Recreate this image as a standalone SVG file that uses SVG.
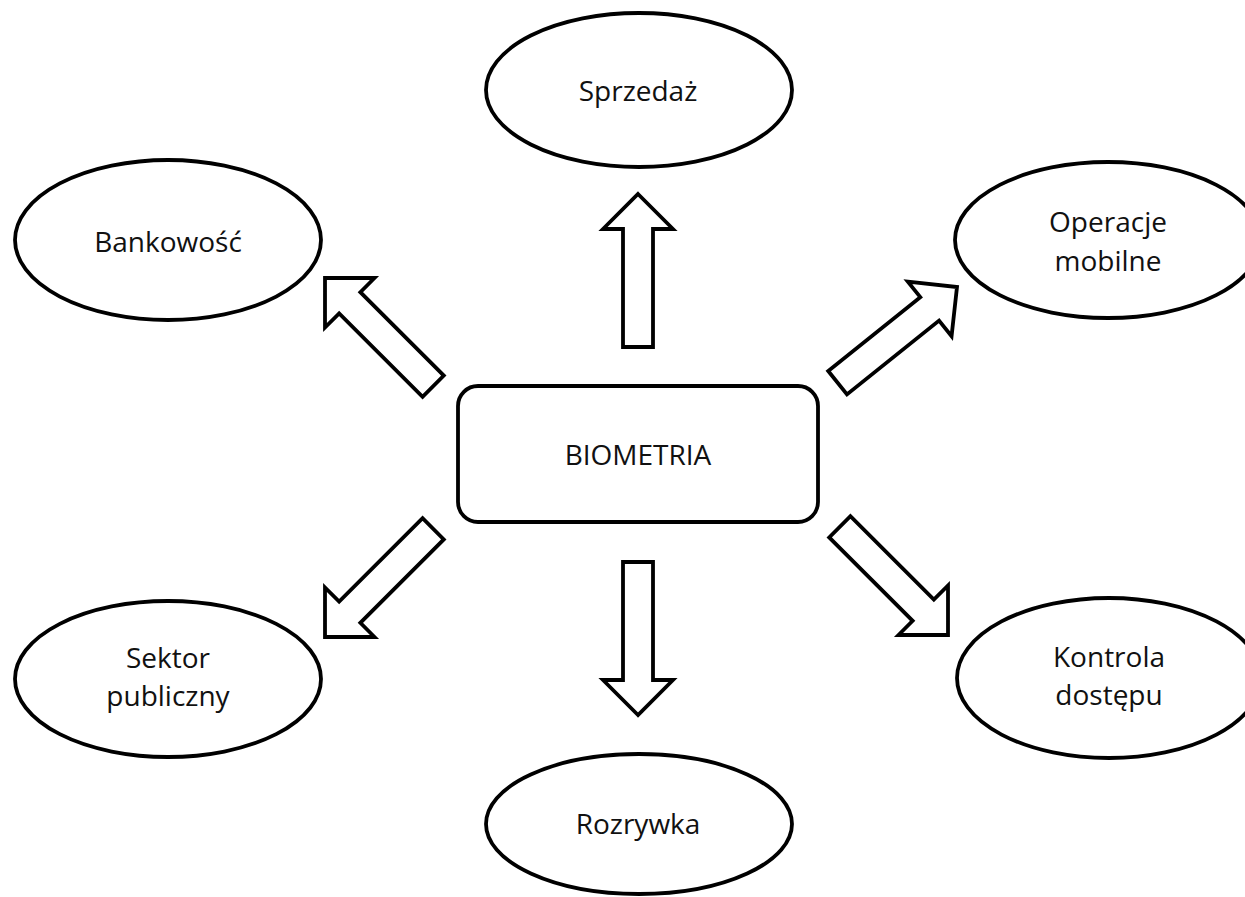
<svg xmlns="http://www.w3.org/2000/svg" width="1245" height="897" viewBox="0 0 1245 897">
  <style>
    .node { fill: #ffffff; stroke: #000000; stroke-width: 3.8; }
    .arrow { fill: #ffffff; stroke: #000000; stroke-width: 3.8; stroke-linejoin: miter; }
    .label { font-family: "Open Sans", "Liberation Sans", sans-serif; font-size: 28px; fill: #111111; text-anchor: middle; }
  </style>
  <defs>
    <path id="blockArrow" d="M0,0 L35,35 L15,35 L15,153 L-15,153 L-15,35 L-35,35 Z"/>
  </defs>
  <rect width="1245" height="897" fill="#ffffff"/>

  <g id="connectors">
    <use href="#blockArrow" class="arrow" transform="translate(638,194)"/>
    <use href="#blockArrow" class="arrow" transform="translate(638,715) rotate(180)"/>
    <use href="#blockArrow" class="arrow" transform="translate(325,278) rotate(-45)"/>
    <use href="#blockArrow" class="arrow" transform="translate(957,287) rotate(51.3)"/>
    <use href="#blockArrow" class="arrow" transform="translate(325,637) rotate(-135)"/>
    <use href="#blockArrow" class="arrow" transform="translate(948,635) rotate(135)"/>
  </g>

  <g id="biometria">
    <rect class="node" x="458" y="386" width="360" height="136" rx="20" ry="20"/>
    <text class="label" x="638" y="465">BIOMETRIA</text>
  </g>

  <g id="sprzedaz">
    <ellipse class="node" cx="639" cy="90" rx="153" ry="77"/>
    <text class="label" x="638" y="101">Sprzedaż</text>
  </g>

  <g id="bankowosc">
    <ellipse class="node" cx="168" cy="240" rx="153" ry="80"/>
    <text class="label" x="168" y="252">Bankowość</text>
  </g>

  <g id="operacje-mobilne">
    <ellipse class="node" cx="1108" cy="240" rx="153" ry="78"/>
    <text class="label" x="1108" y="232">Operacje</text>
    <text class="label" x="1108" y="271">mobilne</text>
  </g>

  <g id="sektor-publiczny">
    <ellipse class="node" cx="168" cy="679" rx="153" ry="78"/>
    <text class="label" x="168" y="668">Sektor</text>
    <text class="label" x="168" y="706">publiczny</text>
  </g>

  <g id="kontrola-dostepu">
    <ellipse class="node" cx="1109" cy="678" rx="152" ry="80"/>
    <text class="label" x="1109" y="667">Kontrola</text>
    <text class="label" x="1109" y="705">dostępu</text>
  </g>

  <g id="rozrywka">
    <ellipse class="node" cx="639" cy="824" rx="153" ry="70"/>
    <text class="label" x="638" y="834">Rozrywka</text>
  </g>
</svg>
